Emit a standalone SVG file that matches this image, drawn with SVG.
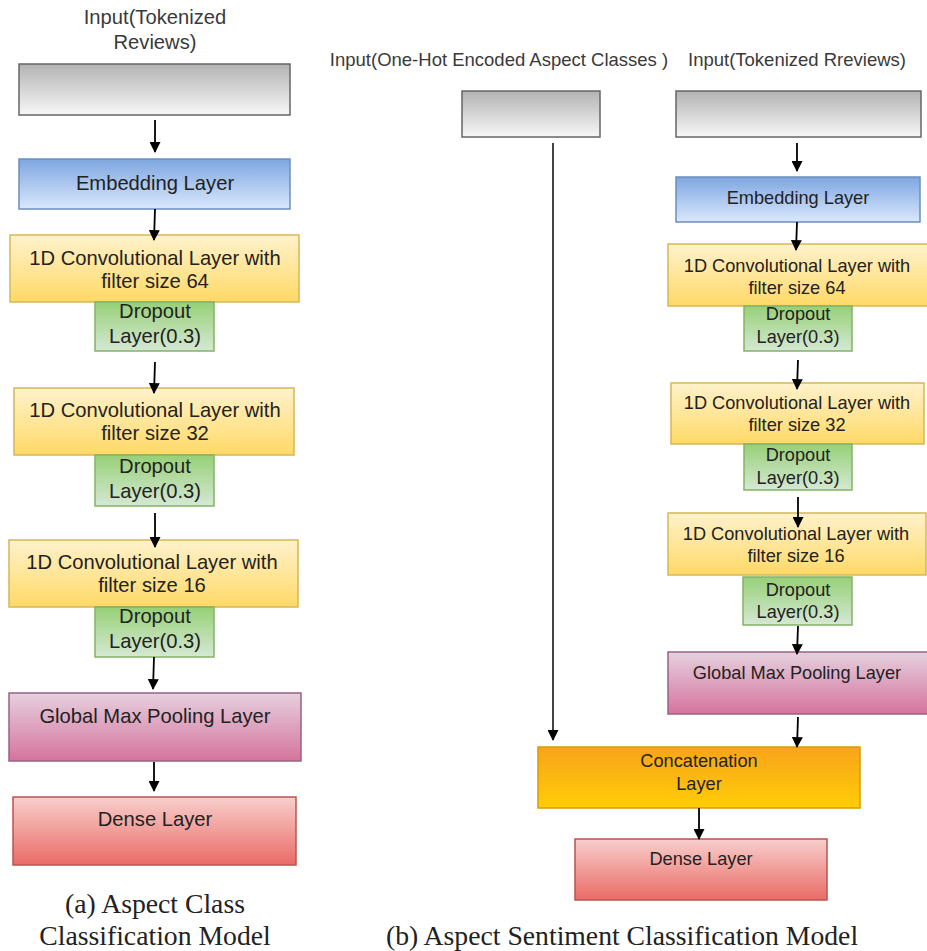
<svg xmlns="http://www.w3.org/2000/svg" width="927" height="951" viewBox="0 0 927 951">
  <defs>
    <linearGradient id="gGray" x1="0" y1="0" x2="0" y2="1">
      <stop offset="0" stop-color="#b3b3b3"/><stop offset="1" stop-color="#f7f7f7"/>
    </linearGradient>
    <linearGradient id="gBlue" x1="0" y1="0" x2="0" y2="1">
      <stop offset="0" stop-color="#7ea6e0"/><stop offset="1" stop-color="#dae8fc"/>
    </linearGradient>
    <linearGradient id="gYellow" x1="0" y1="0" x2="0" y2="1">
      <stop offset="0" stop-color="#fff2cc"/><stop offset="1" stop-color="#ffd966"/>
    </linearGradient>
    <linearGradient id="gGreen" x1="0" y1="0" x2="0" y2="1">
      <stop offset="0" stop-color="#97d077"/><stop offset="1" stop-color="#d5e8d4"/>
    </linearGradient>
    <linearGradient id="gPink" x1="0" y1="0" x2="0" y2="1">
      <stop offset="0" stop-color="#e6d0de"/><stop offset="1" stop-color="#d5739d"/>
    </linearGradient>
    <linearGradient id="gRed" x1="0" y1="0" x2="0" y2="1">
      <stop offset="0" stop-color="#f8cecc"/><stop offset="1" stop-color="#ea6b66"/>
    </linearGradient>
    <linearGradient id="gOrange" x1="0" y1="0" x2="0" y2="1">
      <stop offset="0" stop-color="#f9a41b"/><stop offset="1" stop-color="#ffcd05"/>
    </linearGradient>
    <marker id="arrow" viewBox="0 0 10 10" refX="9" refY="5" markerWidth="12" markerHeight="11" markerUnits="userSpaceOnUse" orient="auto">
      <path d="M0,0 L10,5 L0,10 z" fill="#000"/>
    </marker>
  </defs>
  <style>
    .gray { fill: url(#gGray); stroke: #666; stroke-width: 1.5; }
    .blue { fill: url(#gBlue); stroke: #6c8ebf; stroke-width: 1.5; }
    .yellow { fill: url(#gYellow); stroke: #d6b656; stroke-width: 1.5; }
    .green { fill: url(#gGreen); stroke: #82b366; stroke-width: 1.5; }
    .pink { fill: url(#gPink); stroke: #996185; stroke-width: 1.5; }
    .red { fill: url(#gRed); stroke: #b85450; stroke-width: 1.5; }
    .orange { fill: url(#gOrange); stroke: #d79b00; stroke-width: 1.5; }
    text { font-family: "Liberation Sans", Arial, sans-serif; text-anchor: middle; fill: #222; }
    .big { font-size: 20.2px; }
    .small { font-size: 18.2px; }
    .title { fill: #3a3a3a; }
    .ttl-r { font-size: 18.5px; }
    .cap { font-family: "Liberation Serif", "Times New Roman", serif; font-size: 27.7px; fill: #222; }
    .edge { stroke: #000; stroke-width: 1.8; fill: none; marker-end: url(#arrow); }
    .edge-long { stroke: #444; stroke-width: 2; fill: none; marker-end: url(#arrow); }
  </style>

  <!-- (a) aspect class classification model -->
  <text class="big title" x="155" y="24">Input(Tokenized</text>
  <text class="big title" x="155" y="49">Reviews)</text>
  <g id="a-input"><rect class="gray" x="19" y="64" width="271" height="51"/></g>
  <g id="a-embedding"><rect class="blue" x="19" y="159" width="271" height="50"/>
    <text class="big" x="155" y="190">Embedding Layer</text></g>
  <g id="a-conv64"><rect class="yellow" x="10" y="235" width="289" height="67"/>
    <text class="big" x="155" y="265">1D Convolutional Layer with</text>
    <text class="big" x="155" y="288">filter size 64</text></g>
  <g id="a-drop1"><rect class="green" x="95" y="302" width="119" height="49"/>
    <text class="big" x="155" y="318">Dropout</text>
    <text class="big" x="155" y="343">Layer(0.3)</text></g>
  <g id="a-conv32"><rect class="yellow" x="14" y="388" width="280" height="67"/>
    <text class="big" x="155" y="417">1D Convolutional Layer with</text>
    <text class="big" x="155" y="440">filter size 32</text></g>
  <g id="a-drop2"><rect class="green" x="95" y="455" width="119" height="51"/>
    <text class="big" x="155" y="473">Dropout</text>
    <text class="big" x="155" y="498">Layer(0.3)</text></g>
  <g id="a-conv16"><rect class="yellow" x="9" y="540" width="289" height="67"/>
    <text class="big" x="152" y="569">1D Convolutional Layer with</text>
    <text class="big" x="152" y="592">filter size 16</text></g>
  <g id="a-drop3"><rect class="green" x="95" y="607" width="119" height="50"/>
    <text class="big" x="155" y="623">Dropout</text>
    <text class="big" x="155" y="648">Layer(0.3)</text></g>
  <g id="a-pool"><rect class="pink" x="9" y="693" width="292" height="68"/>
    <text class="big" x="155" y="723">Global Max Pooling Layer</text></g>
  <g id="a-dense"><rect class="red" x="13" y="797" width="283" height="68"/>
    <text class="big" x="155" y="826">Dense Layer</text></g>

  <!-- (b) aspect sentiment classification model -->
  <text class="ttl-r title" x="499" y="66">Input(One-Hot Encoded Aspect Classes )</text>
  <text class="ttl-r title" x="797" y="66">Input(Tokenized Rreviews)</text>
  <g id="b-aspect-input"><rect class="gray" x="462" y="91" width="138" height="46"/></g>
  <g id="b-input"><rect class="gray" x="676" y="91" width="245" height="46"/></g>
  <g id="b-embedding"><rect class="blue" x="676" y="177" width="244" height="45"/>
    <text class="small" x="798" y="204">Embedding Layer</text></g>
  <g id="b-conv64"><rect class="yellow" x="668" y="244" width="262" height="62"/>
    <text class="small" x="797" y="272">1D Convolutional Layer with</text>
    <text class="small" x="797" y="294">filter size 64</text></g>
  <g id="b-drop1"><rect class="green" x="744" y="306" width="108" height="45"/>
    <text class="small" x="798" y="320">Dropout</text>
    <text class="small" x="798" y="343">Layer(0.3)</text></g>
  <g id="b-conv32"><rect class="yellow" x="671" y="383" width="253" height="61"/>
    <text class="small" x="797" y="409">1D Convolutional Layer with</text>
    <text class="small" x="797" y="431">filter size 32</text></g>
  <g id="b-drop2"><rect class="green" x="744" y="444" width="108" height="46"/>
    <text class="small" x="798" y="461">Dropout</text>
    <text class="small" x="798" y="484">Layer(0.3)</text></g>
  <g id="b-conv16"><rect class="yellow" x="668" y="513" width="258" height="62"/>
    <text class="small" x="796" y="540">1D Convolutional Layer with</text>
    <text class="small" x="796" y="562">filter size 16</text></g>
  <g id="b-drop3"><rect class="green" x="743" y="577" width="109" height="48"/>
    <text class="small" x="798" y="596">Dropout</text>
    <text class="small" x="798" y="618">Layer(0.3)</text></g>
  <g id="b-pool"><rect class="pink" x="668" y="652" width="262" height="62"/>
    <text class="small" x="797" y="679">Global Max Pooling Layer</text></g>
  <g id="b-concat"><rect class="orange" x="538" y="747" width="322" height="61"/>
    <text class="small" x="699" y="767">Concatenation</text>
    <text class="small" x="699" y="790">Layer</text></g>
  <g id="b-dense"><rect class="red" x="575" y="839" width="252" height="61"/>
    <text class="small" x="701" y="865">Dense Layer</text></g>

  <g id="connectors">
    <line class="edge" x1="155" y1="120" x2="155" y2="152"/>
    <line class="edge" x1="155" y1="209" x2="154" y2="240"/>
    <line class="edge" x1="155" y1="362" x2="154" y2="393"/>
    <line class="edge" x1="155" y1="513" x2="155" y2="547"/>
    <line class="edge" x1="154" y1="657" x2="153" y2="689"/>
    <line class="edge" x1="154" y1="762" x2="154" y2="791"/>

    <line class="edge" x1="797" y1="143" x2="797" y2="171"/>
    <line class="edge" x1="797" y1="222" x2="796" y2="250"/>
    <line class="edge" x1="798" y1="360" x2="797" y2="389"/>
    <line class="edge" x1="798" y1="497" x2="798" y2="527"/>
    <line class="edge" x1="798" y1="626" x2="797" y2="654"/>
    <line class="edge" x1="798" y1="717" x2="797" y2="747"/>
    <line class="edge-long" x1="553" y1="143" x2="553" y2="740"/>
    <line class="edge" x1="699" y1="808" x2="699" y2="839"/>
  </g>

  <text class="cap" x="155" y="913">(a) Aspect Class</text>
  <text class="cap" x="155" y="945">Classification Model</text>
  <text class="cap" x="622" y="945">(b) Aspect Sentiment Classification Model</text>
</svg>
